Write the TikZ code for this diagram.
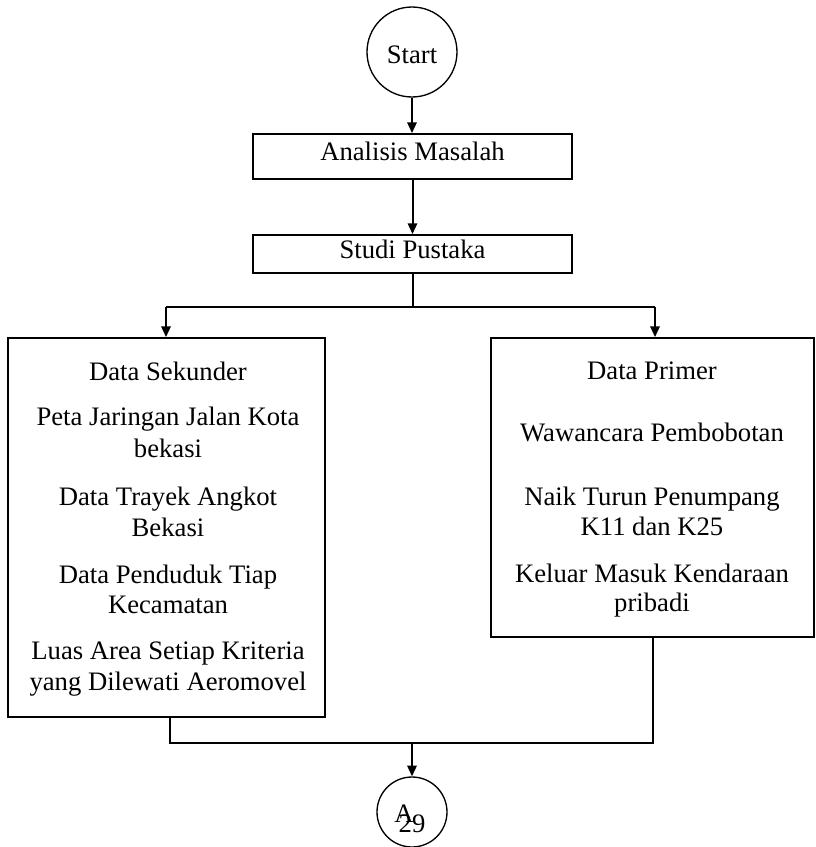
\documentclass[tikz,border=0pt]{standalone}
\usepackage{fontspec}
\setmainfont{Liberation Serif}
\usetikzlibrary{arrows.meta}
\begin{document}
\begin{tikzpicture}[x=0.75pt,y=-0.75pt,
  every node/.style={font=\fontsize{20}{23}\selectfont},
  boxframe/.style={draw, line width=1.4pt, inner sep=0pt},
  term/.style={draw, circle, line width=1pt, inner sep=0pt},
  txt/.style={anchor=base, inner sep=0pt},
  flow/.style={line width=1.5pt},
  arr/.style={flow, -{Triangle[length=8pt,width=7pt]}}]
\useasboundingbox (0,0) rectangle (815,847);

% terminals
\node[term, minimum size=67.5pt] (start) at (412,52) {};
\node[txt] (startlbl) at (412,63) {Start};
\node[term, minimum size=52.5pt] (conn) at (412,812) {};
\node[txt] (connlbl) at (404,822) {A};
\node[txt] (pagenum) at (412,832) {29};

% process boxes
\node[boxframe, minimum width=239.25pt, minimum height=33.75pt] (analisis) at (412.5,156.5) {};
\node[txt] (analisislbl) at (412.5,160) {Analisis Masalah};
\node[boxframe, minimum width=239.25pt, minimum height=28.5pt] (studi) at (412.5,254) {};
\node[txt] (studilbl) at (412.5,258) {Studi Pustaka};

% data boxes
\node[boxframe, minimum width=237.75pt, minimum height=284.25pt] (lbox) at (166.5,527.5) {};
\node[boxframe, minimum width=242.25pt, minimum height=224.25pt] (rbox) at (652.5,487.5) {};

% secondary data
\node[txt] (l1) at (168,380) {Data Sekunder};
\node[txt] (l2) at (168,425) {Peta Jaringan Jalan Kota};
\node[txt] (l3) at (168,457) {bekasi};
\node[txt] (l4) at (168,505) {Data Trayek Angkot};
\node[txt] (l5) at (168,536) {Bekasi};
\node[txt] (l6) at (168,583) {Data Penduduk Tiap};
\node[txt] (l7) at (168,613) {Kecamatan};
\node[txt] (l8) at (168,659) {Luas Area Setiap Kriteria};
\node[txt] (l9) at (168,690) {yang Dilewati Aeromovel};

% primary data
\node[txt] (r1) at (652,379) {Data Primer};
\node[txt] (r2) at (652,441) {Wawancara Pembobotan};
\node[txt] (r3) at (652,505) {Naik Turun Penumpang};
\node[txt] (r4) at (652,535) {K11 dan K25};
\node[txt] (r5) at (652,582) {Keluar Masuk Kendaraan};
\node[txt] (r6) at (652,611) {pribadi};

% connectors
\coordinate (forkL) at (166,307);
\coordinate (forkR) at (655,307);
\coordinate (joinL) at (170,743);
\coordinate (joinR) at (653,743);

\draw[arr] (start.south) -- (start.south |- analisis.north);
\draw[arr] (analisis.south) -- (studi.north);
\draw[flow] (studi.south) -- (studi.south |- forkL);
\draw[flow] (forkL) -- (forkR);
\draw[arr] (forkL) -- (lbox.north -| forkL);
\draw[arr] (forkR) -- (rbox.north -| forkR);
\draw[flow] (lbox.south -| joinL) -- (joinL) -- (joinR) -- (rbox.south -| joinR);
\draw[arr] (conn.north |- joinL) -- (conn.north);
\end{tikzpicture}
\end{document}
